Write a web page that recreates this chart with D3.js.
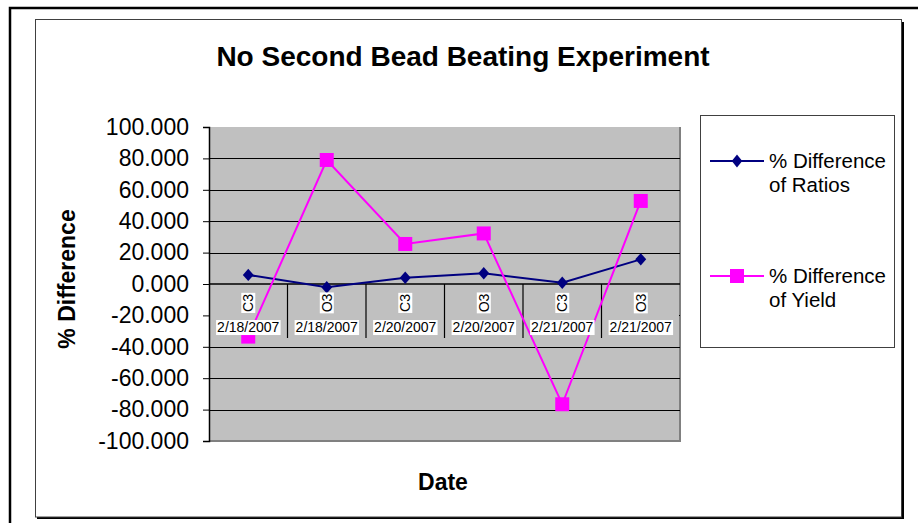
<!DOCTYPE html>
<html>
<head>
<meta charset="utf-8">
<script src="https://cdn.jsdelivr.net/npm/d3@7"></script>
<style>
  html, body { margin: 0; padding: 0; background: #fff; }
  svg { display: block; font-family: "Liberation Sans", Arial, sans-serif; }
</style>
</head>
<body>
<svg id="chart" width="918" height="523"></svg>
<script>
// ---------- data ----------
const subLabels = ["C3", "O3", "C3", "O3", "C3", "O3"];
const dateLabels = ["2/18/2007", "2/18/2007", "2/20/2007", "2/20/2007", "2/21/2007", "2/21/2007"];
const ratiosDiff = [5.8, -2.1, 4.0, 6.8, 0.8, 15.7];
const yieldDiff = [-33.5, 79.0, 25.5, 32.2, -76.6, 52.9];
const yTicks = [100, 80, 60, 40, 20, 0, -20, -40, -60, -80, -100];
const seriesNames = [["% Difference", "of Ratios"], ["% Difference", "of Yield"]];
const titleText = "No Second Bead Beating Experiment";
const yTitle = "% Difference";
const xTitle = "Date";

// ---------- layout ----------
const svg = d3.select("#chart");
const plot = { left: 209, right: 680, top: 127, bottom: 441 };
const idx = d3.range(subLabels.length);
const x = d3.scaleBand().domain(idx).range([plot.left, plot.right]).paddingInner(0).paddingOuter(0);
const y = d3.scaleLinear().domain([-100, 100]).range([plot.bottom, plot.top]);
const cx = i => x(i) + x.bandwidth() / 2;

// outer frames
svg.append("rect").attr("x", 10).attr("y", 8).attr("width", 930).attr("height", 540)
  .attr("fill", "#fff").attr("stroke", "#000").attr("stroke-width", 2.5);
// inner chart area shadow + border
svg.append("rect").attr("x", 37).attr("y", 22).attr("width", 867).attr("height", 497).attr("fill", "#000");
svg.append("rect").attr("x", 35.5).attr("y", 19.5).attr("width", 866).attr("height", 497.5)
  .attr("fill", "#fff").attr("stroke", "#404040").attr("stroke-width", 1);

// plot area
svg.append("rect").attr("x", plot.left).attr("y", plot.top)
  .attr("width", plot.right - plot.left).attr("height", plot.bottom - plot.top)
  .attr("fill", "#C0C0C0");
// right / bottom border of plot area
svg.append("path")
  .attr("d", `M${plot.right},${plot.top}V${plot.bottom}H${plot.left}`)
  .attr("fill", "none").attr("stroke", "#808080").attr("stroke-width", 2);

// gridlines
svg.append("g").selectAll("line")
  .data(yTicks.filter(d => d !== 100 && d !== -100 && d !== 0))
  .join("line")
  .attr("x1", plot.left).attr("x2", plot.right)
  .attr("y1", d => Math.round(y(d)) + 0.5).attr("y2", d => Math.round(y(d)) + 0.5)
  .attr("stroke", "#000").attr("stroke-width", 1);

// category label band (covers gridlines like Excel)
const y0 = y(0);
const labelBottom = 338;
svg.append("rect").attr("x", plot.left + 1).attr("y", y0 + 1)
  .attr("width", plot.right - plot.left - 2).attr("height", labelBottom - y0 - 1)
  .attr("fill", "#C0C0C0");

// y axis
const yAxis = d3.axisLeft(y).tickValues(yTicks).tickSize(6).tickPadding(14)
  .tickFormat(d => d.toFixed(3));
const gy = svg.append("g").attr("transform", `translate(${plot.left},0)`).call(yAxis);
gy.select(".domain").attr("stroke", "#000").attr("stroke-width", 1.5);
gy.selectAll(".tick line").attr("stroke", "#000");
gy.selectAll(".tick text").attr("font-size", 23).attr("fill", "#000")
  .attr("font-family", "Liberation Sans, Arial, sans-serif");

// category axis line at 0
svg.append("line").attr("x1", plot.left).attr("x2", plot.right)
  .attr("y1", y0).attr("y2", y0).attr("stroke", "#000").attr("stroke-width", 1.5);
// dividers
svg.append("g").selectAll("line").data(idx.slice(1))
  .join("line")
  .attr("x1", i => x(i)).attr("x2", i => x(i))
  .attr("y1", y0).attr("y2", labelBottom)
  .attr("stroke", "#000").attr("stroke-width", 1.2);

// series lines
const line = d3.line().x((d, i) => cx(i)).y(d => y(d));
const diamond = d3.symbol(d3.symbolDiamond2, 98)();
svg.append("path").datum(ratiosDiff).attr("d", line)
  .attr("fill", "none").attr("stroke", "#000080").attr("stroke-width", 2);
svg.append("g").selectAll("path").data(ratiosDiff).join("path")
  .attr("d", diamond)
  .attr("transform", (d, i) => `translate(${cx(i)},${y(d)}) scale(0.88,1)`)
  .attr("fill", "#000080");

svg.append("path").datum(yieldDiff).attr("d", line)
  .attr("fill", "none").attr("stroke", "#FF00FF").attr("stroke-width", 2);
svg.append("g").selectAll("path").data(yieldDiff).join("path")
  .attr("d", d3.symbol(d3.symbolSquare, 196)())
  .attr("transform", (d, i) => `translate(${cx(i)},${y(d)})`)
  .attr("fill", "#FF00FF");

// category labels with white backgrounds (drawn on top)
const catG = svg.append("g");
idx.forEach(i => {
  // inner (rotated) label
  const g1 = catG.append("g").attr("transform", `translate(${cx(i)},303) rotate(-90)`);
  const t1 = g1.append("text").attr("text-anchor", "middle").attr("dy", "0.36em")
    .attr("font-size", 14).attr("fill", "#000").text(subLabels[i]);
  const b1 = t1.node().getBBox();
  g1.insert("rect", "text").attr("x", b1.x - 1).attr("y", b1.y + 1)
    .attr("width", b1.width + 2).attr("height", b1.height - 2).attr("fill", "#fff");
  // outer (date) label
  const g2 = catG.append("g").attr("transform", `translate(${cx(i)},327)`);
  const t2 = g2.append("text").attr("text-anchor", "middle").attr("dy", "0.36em")
    .attr("font-size", 14).attr("fill", "#000").text(dateLabels[i]);
  const b2 = t2.node().getBBox();
  g2.insert("rect", "text").attr("x", b2.x - 1).attr("y", b2.y + 1)
    .attr("width", b2.width + 2).attr("height", b2.height - 1).attr("fill", "#fff");
});

// titles
svg.append("text").attr("x", 463).attr("y", 66).attr("text-anchor", "middle")
  .attr("font-size", 28).attr("font-weight", "bold").text(titleText);
svg.append("text").attr("transform", `translate(75,${(plot.top + plot.bottom) / 2 - 5}) rotate(-90)`)
  .attr("text-anchor", "middle").attr("font-size", 23).attr("font-weight", "bold").text(yTitle);
svg.append("text").attr("x", 443).attr("y", 490).attr("text-anchor", "middle")
  .attr("font-size", 23).attr("font-weight", "bold").text(xTitle);

// legend
const lg = svg.append("g");
lg.append("rect").attr("x", 700.5).attr("y", 115.5).attr("width", 194).attr("height", 232)
  .attr("fill", "#fff").attr("stroke", "#404040").attr("stroke-width", 1);
const legendItems = [
  { name: seriesNames[0], color: "#000080", sym: diamond, sc: "scale(0.85,1.05)", ly: 161 },
  { name: seriesNames[1], color: "#FF00FF", sym: d3.symbol(d3.symbolSquare, 196)(), sc: "", ly: 276 }
];
legendItems.forEach(it => {
  lg.append("line").attr("x1", 710).attr("x2", 764).attr("y1", it.ly).attr("y2", it.ly)
    .attr("stroke", it.color).attr("stroke-width", 2);
  lg.append("path").attr("d", it.sym).attr("transform", `translate(737,${it.ly}) ${it.sc}`).attr("fill", it.color);
  lg.append("text").attr("x", 769).attr("y", it.ly + 6.5).attr("font-size", 20.5).text(it.name[0]);
  lg.append("text").attr("x", 769).attr("y", it.ly + 31).attr("font-size", 20.5).text(it.name[1]);
});
</script>
</body>
</html>
